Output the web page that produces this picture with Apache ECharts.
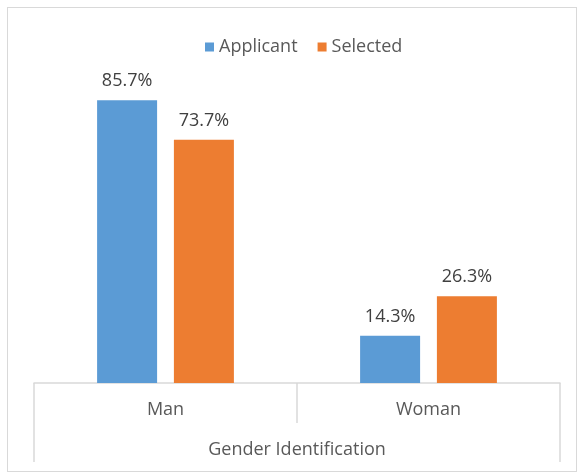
<!DOCTYPE html>
<html>
<head>
<meta charset="utf-8">
<script src="https://cdn.jsdelivr.net/npm/echarts@6/dist/echarts.min.js"></script>
<style>
  html, body { margin: 0; padding: 0; background: #fff; }
  #frame { position: absolute; left: 7px; top: 7px; width: 570px; height: 465px; border: 1px solid #d9d9d9; box-sizing: border-box; }
  #chart { position: absolute; left: 0; top: 0; width: 578px; height: 475px; }
</style>
</head>
<body>
<div id="frame"></div>
<div id="chart"></div>
<script>
const categories = ['Man', 'Woman'];
const groupLabel = ['Gender Identification'];
const seriesNames = ['Applicant', 'Selected'];
const applicant = [85.7, 14.3];
const selected = [73.7, 26.3];

const FONT = '"Open Sans", sans-serif';
const TXT = '#595959';
const LINE = '#d9d9d9';

const chart = echarts.init(document.getElementById('chart'), null, { renderer: 'canvas' });
chart.setOption({
  animation: false,
  backgroundColor: 'transparent',
  textStyle: { fontFamily: FONT },
  legend: {
    top: 33,
    left: 200,
    itemWidth: 9,
    itemHeight: 9,
    itemGap: 20,
    icon: 'rect',
    textStyle: { fontFamily: FONT, fontSize: 18, color: TXT },
    data: seriesNames
  },
  grid: { left: 34, right: 18, top: 53, bottom: 92, containLabel: false },
  xAxis: [
    {
      type: 'category',
      data: categories,
      position: 'bottom',
      axisLine: { show: true, lineStyle: { color: LINE, width: 1.5 } },
      axisTick: { show: true, alignWithLabel: false, length: 40, lineStyle: { color: LINE, width: 1.5 } },
      axisLabel: { margin: 18, fontFamily: FONT, fontSize: 18, color: TXT }
    },
    {
      type: 'category',
      data: groupLabel,
      position: 'bottom',
      offset: 40,
      axisLine: { show: false },
      axisTick: { show: true, alignWithLabel: false, length: 39, lineStyle: { color: LINE, width: 1.5 } },
      axisLabel: { margin: 18, fontFamily: FONT, fontSize: 18, color: TXT }
    }
  ],
  yAxis: { type: 'value', min: 0, max: 100, show: false, splitLine: { show: false } },
  series: [
    {
      name: seriesNames[0],
      type: 'bar',
      xAxisIndex: 0,
      data: applicant,
      barWidth: 60,
      barGap: '28%',
      itemStyle: { color: '#5B9BD5' },
      label: { show: true, position: 'top', distance: 10, formatter: p => p.value.toFixed(1) + '%', fontFamily: FONT, fontSize: 18, color: '#404040' }
    },
    {
      name: seriesNames[1],
      type: 'bar',
      xAxisIndex: 0,
      data: selected,
      barWidth: 60,
      barGap: '28%',
      itemStyle: { color: '#ED7D31' },
      label: { show: true, position: 'top', distance: 10, formatter: p => p.value.toFixed(1) + '%', fontFamily: FONT, fontSize: 18, color: '#404040' }
    }
  ]
});
</script>
</body>
</html>
